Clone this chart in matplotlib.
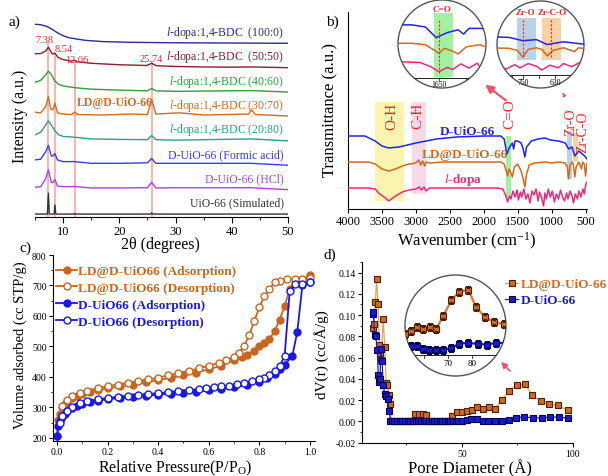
import numpy as np
import matplotlib
matplotlib.use("Agg")
import matplotlib.pyplot as plt
from matplotlib.patches import Circle, Rectangle
from matplotlib.ticker import MultipleLocator

plt.rcParams['font.family'] = ['Liberation Serif', 'DejaVu Serif']
plt.rcParams['mathtext.fontset'] = 'custom'
plt.rcParams['mathtext.rm'] = 'Liberation Serif'
plt.rcParams['mathtext.it'] = 'Liberation Serif:italic'
plt.rcParams['mathtext.bf'] = 'Liberation Serif:bold'

W, H = 608, 477

# ---------------- a) XRD patterns (height above each baseline) ----------------
xrd_labels = [r'$\mathit{l}$-dopa:1,4-BDC  (100:0)', r'$\mathit{l}$-dopa:1,4-BDC  (50:50)',
              r'$\mathit{l}$-dopa:1,4-BDC (40:60)', r'$\mathit{l}$-dopa:1,4-BDC (30:70)',
              r'$\mathit{l}$-dopa:1,4-BDC (20:80)', 'D-UiO-66 (Formic acid)',
              'D-UiO-66 (HCl)', 'UiO-66 (Simulated)']
xrd_colors = ['#2b2b9a', '#8b1f2e', '#2e9e3a', '#d2691e', '#2a9d8f', '#3a3af0', '#b040e6', '#333333']

x_100 = [5, 6, 7, 8, 9, 10, 11, 12.5, 14, 17, 22, 30, 40, 50]
y_100 = [0.78, 0.76, 0.70, 0.58, 0.43, 0.31, 0.23, 0.17, 0.12, 0.07, 0.04, 0.02, 0.01, 0.0]
x_50 = [5, 6, 6.9, 7.38, 7.9, 8.2, 8.54, 9.1, 10, 11.5, 12.06, 12.6, 15, 20, 24.9, 25.74, 26.6, 30, 35, 40, 43.5, 50]
y_50 = [0.57, 0.58, 0.68, 0.84, 0.62, 0.56, 0.60, 0.42, 0.33, 0.27, 0.30, 0.24, 0.18, 0.12, 0.09, 0.18, 0.08, 0.05, 0.03, 0.02, 0.03, 0.0]
x_40 = [5, 6, 6.9, 7.38, 7.9, 8.54, 9.2, 10, 12.06, 15, 20, 25, 25.74, 26.5, 30, 43.5, 50]
y_40 = [0.40, 0.48, 0.70, 0.86, 0.72, 0.45, 0.32, 0.25, 0.18, 0.12, 0.08, 0.05, 0.15, 0.05, 0.03, 0.06, 0.0]
x_30 = [5, 6, 6.9, 7.38, 7.8, 8.2, 8.54, 9.0, 10, 11.5, 12.06, 12.6, 17, 22, 25, 25.74, 26.5, 30.7, 35, 43.0, 43.5, 44.2, 50]
y_30 = [0.18, 0.14, 0.40, 0.82, 0.30, 0.28, 0.55, 0.15, 0.10, 0.08, 0.18, 0.08, 0.06, 0.10, 0.08, 0.70, 0.10, 0.15, 0.06, 0.10, 0.28, 0.08, 0.02]
x_20 = [5, 6, 6.9, 7.38, 7.9, 8.54, 9.2, 10, 12.06, 15, 20, 25, 25.74, 26.5, 30, 43.5, 50]
y_20 = [0.25, 0.35, 0.65, 0.82, 0.65, 0.42, 0.25, 0.18, 0.15, 0.08, 0.06, 0.05, 0.22, 0.05, 0.03, 0.08, 0.0]
x_fa = [5, 6, 6.9, 7.38, 7.9, 8.2, 8.54, 9.0, 10, 12.06, 15, 20, 25, 25.74, 26.5, 30.7, 43.5, 50]
y_fa = [0.22, 0.25, 0.55, 0.82, 0.38, 0.38, 0.48, 0.22, 0.15, 0.15, 0.08, 0.08, 0.10, 0.28, 0.08, 0.08, 0.08, 0.0]
x_hcl = [5, 6, 6.9, 7.38, 7.9, 8.2, 8.54, 9.0, 10, 12.06, 15, 20, 25, 25.74, 26.5, 30.7, 43.5, 50]
y_hcl = [0.10, 0.12, 0.45, 0.82, 0.30, 0.30, 0.42, 0.15, 0.12, 0.13, 0.07, 0.07, 0.08, 0.30, 0.07, 0.08, 0.08, 0.0]
x_sim = [5, 7.2, 7.38, 7.55, 8.4, 8.54, 8.7, 11.9, 12.06, 12.2, 25.6, 25.74, 25.9, 50]
y_sim = [0, 0, 0.86, 0, 0, 0.37, 0, 0, 0.03, 0, 0, 0.05, 0, 0]
xrd_x = [x_100, x_50, x_40, x_30, x_20, x_fa, x_hcl, x_sim]
xrd_y = [y_100, y_50, y_40, y_30, y_20, y_fa, y_hcl, y_sim]
xrd_peaks = [7.38, 8.54, 12.06, 25.74]
xrd_peak_labels = ['7.38', '8.54', '12.06', '25.74']

# ---------------- b) FTIR spectra ----------------
ir_blue_x = [4000, 3750, 3600, 3500, 3400, 3250, 3000, 2700, 2400, 2000, 1750, 1700, 1660, 1620, 1580, 1560,
             1540, 1500, 1450, 1420, 1395, 1370, 1300, 1200, 1100, 1020, 900, 800, 750, 700, 660, 600, 550, 500, 480]
ir_blue_y = [73, 73, 68, 63, 61, 62, 66, 70, 72, 73, 73, 70, 55, 62, 66, 60,
             68, 68, 66, 60, 52, 62, 68, 70, 71, 69, 68, 66, 60, 62, 53, 58, 55, 52, 50]
ir_or_x = [4000, 3700, 3600, 3500, 3400, 3300, 3200, 3100, 3000, 2960, 2930, 2900, 2870, 2850, 2800, 2600, 2000,
           1750, 1700, 1670, 1650, 1630, 1600, 1580, 1550, 1500, 1450, 1420, 1395, 1370, 1330, 1250, 1100, 1000,
           900, 800, 770, 750, 730, 700, 680, 660, 640, 600, 560, 545, 520, 500, 480]
ir_or_y = [47, 47, 45, 40, 38, 40, 43, 45, 46, 49, 44, 48, 43, 47, 46, 47, 47,
           47, 45, 38, 33, 40, 36, 32, 42, 45, 38, 30, 22, 35, 44, 46, 47, 46,
           47, 46, 42, 30, 44, 47, 44, 32, 42, 47, 40, 47, 45, 33, 46]
ir_pk_x = [4000, 3700, 3600, 3550, 3450, 3400, 3300, 3200, 3100, 3000, 2950, 2920, 2880, 2850, 2800, 2600, 2200,
           1800, 1720, 1680, 1650, 1620, 1600, 1570, 1540, 1510, 1490, 1460, 1440, 1410, 1380, 1350, 1320, 1290,
           1260, 1230, 1200, 1180, 1150, 1120, 1100, 1080, 1050, 1020, 990, 960, 930, 900, 870, 840, 810, 780,
           760, 730, 700, 680, 650, 620, 600, 570, 540, 520, 500, 480]
ir_pk_y = [21, 21, 20, 16, 11, 8, 13, 17, 19, 20, 22, 19, 22, 18, 21, 21, 21,
           21, 20, 14, 7, 13, 10, 18, 12, 19, 9, 17, 12, 20, 10, 15, 6, 18,
           14, 20, 8, 17, 12, 3, 16, 10, 20, 12, 18, 7, 15, 10, 19, 12, 8, 16,
           10, 18, 13, 6, 15, 10, 18, 12, 20, 15, 24, 27]
ir_colors = ['#2323e6', '#d2691e', '#ec2a7e']
ir_names = ['D-UiO-66', 'LD@D-UiO-66', r'$\mathit{l}$-dopa']
# bands: (wavenumber high, low, bottom, top, color, label)
band_hi = [3600, 3060, 1670, 770, 680]
band_lo = [3180, 2850, 1600, 700, 610]
band_bot = [8, 15, 10, 30, 47]
band_top = [107, 107, 73, 78, 76]
band_col = ['#faf4a0', '#f7d3e6', '#8ff08f', '#aecbe3', '#f8c997']
band_lab = ['O-H', 'C-H', 'C=O', 'Zr-O', 'Zr-C-O']

# ---------------- c) N2 isotherms ----------------
p_ld_ads = [0.0, 0.005, 0.01, 0.02, 0.03, 0.04, 0.06, 0.08, 0.1, 0.13, 0.16, 0.2, 0.25, 0.3, 0.35, 0.4, 0.45,
            0.5, 0.55, 0.6, 0.65, 0.7, 0.73, 0.75, 0.78, 0.8, 0.82, 0.84, 0.86, 0.88, 0.9, 0.92, 0.96, 1.0]
v_ld_ads = [205, 260, 280, 300, 312, 320, 330, 338, 345, 350, 356, 363, 369, 375, 382, 390, 397,
            405, 414, 425, 437, 455, 465, 472, 485, 500, 510, 525, 550, 588, 632, 690, 718, 733]
p_ld_des = [1.0, 0.97, 0.94, 0.91, 0.88, 0.86, 0.84, 0.82, 0.8, 0.78, 0.76, 0.74, 0.72, 0.7, 0.67, 0.64, 0.6,
            0.56, 0.52, 0.48, 0.44, 0.4, 0.36, 0.32, 0.28, 0.24, 0.2, 0.16, 0.12, 0.09, 0.06, 0.04, 0.02]
v_ld_des = [725, 722, 721, 720, 716, 710, 688, 665, 628, 584, 536, 503, 480, 465, 455, 446, 437,
            428, 420, 413, 405, 398, 392, 387, 381, 375, 370, 363, 355, 347, 338, 325, 305]
p_d_ads = [0.0, 0.005, 0.01, 0.02, 0.03, 0.04, 0.06, 0.08, 0.1, 0.13, 0.16, 0.2, 0.25, 0.3, 0.35, 0.4, 0.45,
           0.5, 0.55, 0.6, 0.65, 0.7, 0.75, 0.8, 0.83, 0.86, 0.88, 0.9, 0.93, 0.95, 0.97, 1.0]
v_d_ads = [205, 240, 255, 270, 280, 287, 298, 305, 312, 317, 322, 327, 331, 335, 338, 342, 345,
           348, 352, 356, 360, 366, 374, 385, 395, 410, 425, 440, 468, 548, 700, 710]
p_d_des = [1.0, 0.97, 0.94, 0.92, 0.9, 0.88, 0.86, 0.84, 0.82, 0.8, 0.77, 0.74, 0.71, 0.68, 0.65, 0.62, 0.59,
           0.56, 0.52, 0.48, 0.44, 0.4, 0.36, 0.32, 0.28, 0.24, 0.2, 0.16, 0.12, 0.09, 0.06, 0.04, 0.02, 0.01]
v_d_des = [710, 705, 705, 682, 470, 435, 418, 406, 398, 392, 386, 381, 376, 372, 369, 366, 363,
           360, 357, 354, 350, 347, 344, 341, 338, 335, 331, 327, 320, 313, 303, 290, 272, 250]
iso_color = ['#c9661e', '#1818e8']

# ---------------- d) pore size distribution ----------------
pd_ld_x = [9.8, 10.3, 11.0, 11.6, 12.2, 12.8, 13.3, 13.7, 14.5, 15.3, 15.9, 16.4, 17.0, 17.5, 18.3,
           19.5, 20.7, 21.9, 23.1, 24.3, 25.5, 26.7, 27.6, 28.8, 30.6, 32.4, 33.6, 34.8, 36.0, 37.2,
           38.4, 39.6, 40.8, 42.0, 43.2, 44.2, 45.4, 47.6, 49.9, 52.1, 54.4, 56.9, 59.3, 62.2, 64.9,
           68.0, 71.3, 74.6, 78.4, 81.5, 85.4, 89.2, 93.2, 97.6]
pd_ld_y = [0.088, 0.092, 0.112, 0.134, 0.110, 0.072, 0.064, 0.058, 0.096, 0.070, 0.036, 0.034, 0.025, 0.016, 0.0,
           0.0, 0.0, 0.0, 0.0, 0.0, 0.0, 0.0, 0.0, 0.0065, 0.0068, 0.0068, 0.006, 0.0, 0.0, 0.0,
           0.0, 0.0, 0.0, 0.0, 0.0, 0.0, 0.0053, 0.0088, 0.0088, 0.0095, 0.011, 0.0135, 0.012, 0.0135, 0.012,
           0.020, 0.029, 0.034, 0.035, 0.025, 0.019, 0.016, 0.015, 0.0105]
pd_d_x = [9.8, 10.1, 10.7, 11.2, 11.9, 12.3, 12.7, 13.1, 13.5, 14.0, 14.6, 15.2, 16.0, 16.6, 17.2, 17.8,
          18.4, 19.6, 20.8, 22.0, 23.2, 24.4, 25.6, 26.8, 28.0, 29.2, 30.4, 31.6, 32.8, 34.0, 35.2,
          36.4, 37.6, 38.8, 40.0, 41.2, 42.4, 43.6, 44.8, 46.0, 47.2, 48.4, 50.1, 52.3, 54.3, 56.9,
          59.3, 61.8, 64.9, 68.0, 71.3, 74.3, 78.0, 82.2, 86.0, 89.7, 93.8, 97.7]
pd_d_y = [0.101, 0.103, 0.081, 0.080, 0.067, 0.044, 0.037, 0.040, 0.068, 0.057, 0.034, 0.026, 0.024, 0.021, 0.010, 0.0,
          0.0, 0.0, 0.0, 0.0, 0.0, 0.0, 0.0, 0.0, 0.0, 0.0, 0.0, 0.0, 0.0, 0.0, 0.0,
          0.0, 0.0, 0.0, 0.0, 0.0, 0.0, 0.0, 0.0, 0.0, 0.0, 0.0, 0.0, 0.0015, 0.0025, 0.002,
          0.0005, 0.0, 0.0, 0.0, 0.001, 0.0035, 0.004, 0.0035, 0.003, 0.004, 0.004, 0.003]
pd_colors = ['#d2691e', '#1a1ad6']
pd_edges = ['#4a2000', '#000050']
pd_names = ['LD@D-UiO-66', 'D-UiO-66']


def box(x0, y0, x1, y1):
    return [x0 / W, 1 - y1 / H, (x1 - x0) / W, (y1 - y0) / H]


def ftext(x, y, s, **kw):
    fig.text(x / W, 1 - y / H, s, **kw)


def circle_inset(x0, y0, size):
    axi = fig.add_axes(box(x0, y0, x0 + size, y0 + size))
    axi.axis('off')
    bg = Circle((0.5, 0.5), 0.5, transform=axi.transAxes, facecolor='white', edgecolor='none', zorder=0)
    axi.add_patch(bg)
    return axi


def finish_inset(axi):
    clip = Circle((0.5, 0.5), 0.5, transform=axi.transAxes)
    for art in axi.lines + axi.patches + axi.collections:
        art.set_clip_path(clip)
    axi.add_patch(Circle((0.5, 0.5), 0.5, transform=axi.transAxes, fill=False,
                         edgecolor='#555555', lw=1.0, clip_on=False))


fig = plt.figure(figsize=(W / 100, H / 100), dpi=100)

# ================= a =================
ax = fig.add_axes(box(35, 15, 288, 218))
for i, (xs, ys) in enumerate(zip(xrd_x, xrd_y)):
    off = 7 - i
    ax.plot(xs, np.array(ys) + off, color=xrd_colors[i], lw=1.0, zorder=3)
    ax.text(49.2, off + 0.47 if i > 0 else off + 0.46, xrd_labels[i], color=xrd_colors[i],
            ha='right', va='center', fontsize=8.5)
line_tops = [6.97, 6.56, 6.23, 6.23]
for px, top in zip(xrd_peaks, line_tops):
    ax.plot([px, px], [-0.12, top], color='#f7a8a0', lw=1.2, zorder=2)
lab_xy = [(6.6, 7.17), (10.1, 6.80), (12.4, 6.34), (25.6, 6.38)]
for (lx, ly), s in zip(lab_xy, xrd_peak_labels):
    ax.text(lx, ly, s, color='#e8282a', fontsize=7.5, ha='center', va='center')
ax.text(19.2, 4.59, 'LD@D-UiO-66', color='#d2691e', fontsize=8.5, fontweight='bold', ha='center', va='center')
ax.set_xlim(5, 50)
ax.set_ylim(-0.12, 8.2)
for s in ['top', 'right', 'left']:
    ax.spines[s].set_visible(False)
ax.set_yticks([])
ax.xaxis.set_major_locator(MultipleLocator(10))
ax.xaxis.set_minor_locator(MultipleLocator(5))
ax.tick_params(axis='x', labelsize=9, pad=1.5, length=4)
ax.tick_params(axis='x', which='minor', length=2)
ftext(20, 116, 'Intensity (a.u.)', rotation=90, ha='center', va='center', fontsize=11.5)
ftext(160, 245, '2θ (degrees)', ha='center', va='center', fontsize=11.5)
ftext(14, 22, 'a)', ha='center', va='center', fontsize=11)

# ================= b =================
bx = fig.add_axes(box(348, 13, 587, 210))
ir_x = [ir_blue_x, ir_or_x, ir_pk_x]
ir_y = [ir_blue_y, ir_or_y, ir_pk_y]
for i in range(5):
    bx.add_patch(Rectangle((band_lo[i], band_bot[i]), band_hi[i] - band_lo[i], band_top[i] - band_bot[i],
                           facecolor=band_col[i], edgecolor='none', alpha=0.85, zorder=1))
for xs, ys, c in zip(ir_x, ir_y, ir_colors):
    bx.plot(xs, ys, color=c, lw=1.1, zorder=3)
red_lab = [(3352, 94), (2969, 94), (1610, 96), (725, 88), (540, 78)]
red_size = [11, 11, 11, 10, 10]
for (lx, ly), s, fs in zip(red_lab, band_lab, red_size):
    bx.text(lx, ly, s, color='#e8282a', rotation=90, ha='center', va='center', fontsize=fs)
bx.text(2247, 78, ir_names[0], color=ir_colors[0], fontsize=9.5, fontweight='bold', ha='center', va='center')
bx.text(2277, 55, ir_names[1], color=ir_colors[1], fontsize=9.5, fontweight='bold', ha='center', va='center')
bx.text(2306, 30, ir_names[2], color=ir_colors[2], fontsize=9.5, fontweight='bold', ha='center', va='center')
bx.set_xlim(4000, 480)
bx.set_ylim(0, 197)
bx.spines['top'].set_visible(False)
bx.spines['right'].set_visible(False)
bx.set_yticks([])
bx.set_xticks([4000, 3500, 3000, 2500, 2000, 1500, 1000, 500])
bx.tick_params(axis='x', labelsize=9, pad=1.5, length=3)
ftext(330, 110, 'Transmittance (a.u.)', rotation=90, ha='center', va='center', fontsize=12)
ftext(467, 241, 'Wavenumber (cm$^{-1}$)', ha='center', va='center', fontsize=12)
ftext(332, 22, 'b)', ha='center', va='center', fontsize=11)

# left circular inset (C=O region)
bi = circle_inset(398, 1, 88)
for xs, ys, c in zip(ir_x, ir_y, ir_colors):
    bi.plot(xs, ys, color=c, lw=1.1, zorder=3)
bi.add_patch(Rectangle((1600, 0), 70, 90, facecolor='#8ff08f', edgecolor='none', alpha=0.85, zorder=1))
bi.plot([1650, 1650], [5, 80], color='#e8282a', lw=0.8, ls=(0, (2, 1.5)), zorder=4)
bi.axhline(-2, color='#222222', lw=0.7)
for t in [1750, 1650, 1550]:
    bi.plot([t, t], [-2, -5], color='#222222', lw=0.6)
bi.text(1650, -11, '1650', ha='center', va='center', fontsize=5.5)
bi.text(1640, 95, 'C=O', color='#e8282a', ha='center', va='center', fontsize=6.5, fontweight='bold')
bi.set_xlim(1800, 1478)
bi.set_ylim(-16, 108)
finish_inset(bi)

# right circular inset (Zr-O region)
bj = circle_inset(497, 2, 87)
for xs, ys, c in zip(ir_x, ir_y, ir_colors):
    bj.plot(xs, ys, color=c, lw=1.1, zorder=3)
bj.add_patch(Rectangle((700, 24), 70, 78, facecolor='#aecbe3', edgecolor='none', alpha=0.85, zorder=1))
bj.add_patch(Rectangle((610, 24), 70, 78, facecolor='#f8c997', edgecolor='none', alpha=0.85, zorder=1))
for t in [750, 645]:
    bj.plot([t, t], [30, 100], color='#e8282a', lw=0.8, ls=(0, (2, 1.5)), zorder=4)
bj.axhline(-3, color='#222222', lw=0.7)
for t in [790, 750, 690, 630, 570]:
    bj.plot([t, t], [-3, -8], color='#222222', lw=0.6)
bj.text(750, -16, '750', ha='center', va='center', fontsize=5.5)
bj.text(630, -16, '630', ha='center', va='center', fontsize=5.5)
bj.text(742, 112, 'Zr-O', color='#e8282a', ha='center', va='center', fontsize=6.5, fontweight='bold')
bj.text(640, 112, 'Zr-C-O', color='#e8282a', ha='center', va='center', fontsize=6.5, fontweight='bold')
bj.set_xlim(845, 525)
bj.set_ylim(-27, 133)
finish_inset(bj)

bx.annotate('', xy=(483, H - 84), xytext=(508, H - 103), xycoords='figure pixels',
            arrowprops=dict(arrowstyle='-|>', color='#f0506e', lw=1.6, mutation_scale=12))
bx.annotate('', xy=(561, H - 91), xytext=(565, H - 98), xycoords='figure pixels',
            arrowprops=dict(arrowstyle='-|>', color='#f0506e', lw=0.8, ls=':', mutation_scale=6))

# ================= c =================
cx = fig.add_axes(box(53, 256, 315, 442))
cx.plot(p_ld_ads, v_ld_ads, '-o', color=iso_color[0], ms=5, mew=1, mfc=iso_color[0], lw=1.3,
        label='LD@D-UiO66 (Adsorption)')
cx.plot(p_ld_des, v_ld_des, '-o', color=iso_color[0], ms=5, mew=1, mfc='white', lw=1.3,
        label='LD@D-UiO66 (Desorption)')
cx.plot(p_d_ads, v_d_ads, '-o', color=iso_color[1], ms=5, mew=1, mfc=iso_color[1], lw=1.3,
        label='D-UiO66 (Adsorption)')
cx.plot(p_d_des, v_d_des, '-o', color=iso_color[1], ms=5, mew=1, mfc='white', lw=1.3,
        label='D-UiO66 (Desorption)')
cx.set_xlim(-0.016, 1.02)
cx.set_ylim(190, 800)
cx.spines['top'].set_visible(False)
cx.spines['right'].set_visible(False)
cx.xaxis.set_minor_locator(MultipleLocator(0.1))
cx.yaxis.set_major_locator(MultipleLocator(100))
cx.yaxis.set_minor_locator(MultipleLocator(50))
cx.set_xticks([0, 0.2, 0.4, 0.6, 0.8, 1.0])
cx.set_xticklabels(['0.0', '0.2', '0.4', '0.6', '0.8', '1.0'])
cx.tick_params(labelsize=7, length=3, pad=1.5)
cx.tick_params(which='minor', length=1.5)
leg = cx.legend(loc='upper left', bbox_to_anchor=(56 / W, 1 - 266 / H), bbox_transform=fig.transFigure,
                frameon=False, handlelength=1.6, handletextpad=0.1, labelspacing=0.35,
                borderpad=0, borderaxespad=0, prop={'weight': 'bold', 'size': 9.5})
for txt, c in zip(leg.get_texts(), [iso_color[0], iso_color[0], iso_color[1], iso_color[1]]):
    txt.set_color(c)
ftext(20, 345, 'Volume adsorbed (cc STP/g)', rotation=90, ha='center', va='center', fontsize=10.5)
ftext(175, 468, 'Relative Pressure(P/P$_\\mathrm{O}$)', ha='center', va='center', fontsize=11.5)
ftext(25, 248, 'c)', ha='center', va='center', fontsize=11)

# ================= d =================
dx = fig.add_axes(box(362, 263, 573, 443.6))
dx.plot(pd_ld_x, pd_ld_y, '-s', color='#f0a050', mfc=pd_colors[0], mec=pd_edges[0], ms=4.2, mew=0.8, lw=0.9,
        label=pd_names[0])
dx.plot(pd_d_x, pd_d_y, '-s', color=pd_colors[1], mfc=pd_colors[1], mec=pd_edges[1], ms=4.2, mew=0.8, lw=0.9,
        label=pd_names[1])
dx.set_xlim(5, 100)
dx.set_ylim(-0.02, 0.15)
dx.spines['top'].set_visible(False)
dx.spines['right'].set_visible(False)
dx.set_xticks([50, 100])
dx.xaxis.set_minor_locator(MultipleLocator(25))
dx.yaxis.set_minor_locator(MultipleLocator(0.01))
dx.set_yticks([-0.02, 0, 0.02, 0.04, 0.06, 0.08, 0.10, 0.12, 0.14])
dx.set_yticklabels(['-0.02', '0.00', '0.02', '0.04', '0.06', '0.08', '0.10', '0.12', '0.14'])
dx.tick_params(labelsize=7, length=3, pad=1.5)
dx.tick_params(which='minor', length=1.5)
leg2 = dx.legend(loc='upper left', bbox_to_anchor=(505 / W, 1 - 279 / H), bbox_transform=fig.transFigure,
                 frameon=False, handlelength=1.0, handletextpad=0.2, labelspacing=0.3,
                 borderpad=0, borderaxespad=0, prop={'weight': 'bold', 'size': 9.5})
for txt, c in zip(leg2.get_texts(), [pd_colors[0], pd_colors[1]]):
    txt.set_color(c)
ftext(322, 355, 'dV(r) (cc/Å/g)', rotation=90, ha='center', va='center', fontsize=11)
ftext(470, 469, 'Pore Diameter (Å)', ha='center', va='center', fontsize=12)
ftext(330, 255, 'd)', ha='center', va='center', fontsize=11)

di = circle_inset(405, 276, 101)
di.plot(pd_ld_x, pd_ld_y, '-s', color='#e07828', mfc=pd_colors[0], mec=pd_edges[0], ms=4.2, mew=0.8, lw=1.6)
di.plot(pd_d_x, pd_d_y, '-s', color=pd_colors[1], mfc=pd_colors[1], mec=pd_edges[1], ms=4.2, mew=0.8, lw=1.6)
di.axhline(-0.0033, color='#222222', lw=0.7)
for t in [60, 70, 80, 90]:
    di.plot([t, t], [-0.0033, -0.0047], color='#222222', lw=0.6)
di.text(70, -0.0075, '70', ha='center', va='center', fontsize=6.5)
di.text(80, -0.0075, '80', ha='center', va='center', fontsize=6.5)
di.set_xlim(52, 94)
di.set_ylim(-0.0153, 0.0437)
finish_inset(di)
dx.annotate('', xy=(499, H - 361), xytext=(512, H - 374), xycoords='figure pixels',
            arrowprops=dict(arrowstyle='-|>', color='#f0506e', lw=1.2, mutation_scale=9))

fig.savefig('out.png', dpi=100)
